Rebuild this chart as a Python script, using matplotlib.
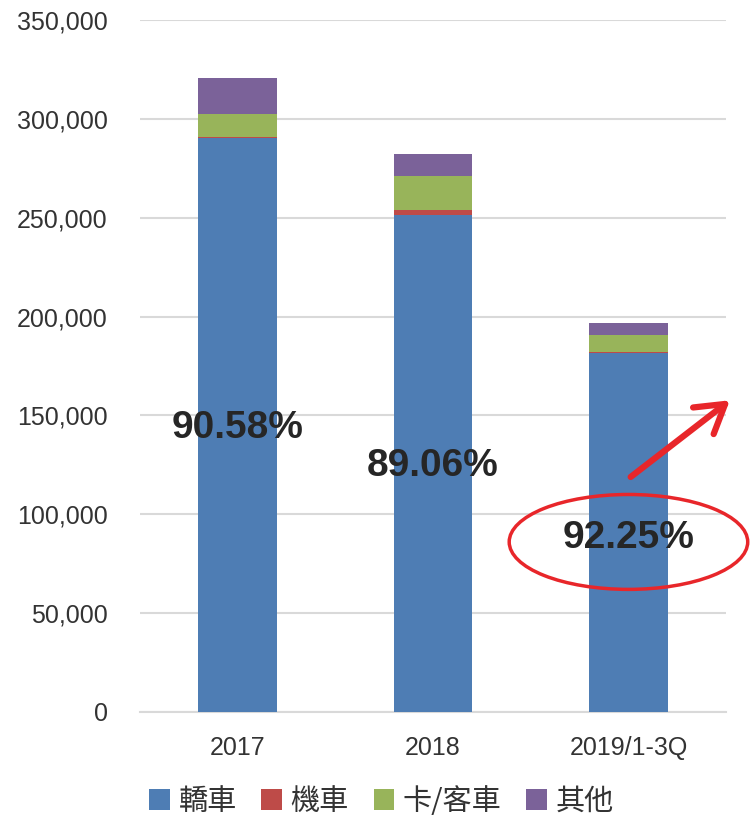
import numpy as np
import matplotlib.pyplot as plt
from matplotlib.patches import Ellipse

plt.rcParams['font.family'] = ['Liberation Sans', 'Noto Sans CJK TC', 'DejaVu Sans']

# 資料 (由圖讀取的估計值)
years = ['2017', '2018', '2019/1-3Q']
sedan = [290300, 251300, 181500]   # 轎車
moto = [700, 2400, 700]            # 機車
truck = [11300, 17600, 8400]       # 卡/客車
other = [18200, 10900, 6200]       # 其他
share = ['90.58%', '89.06%', '92.25%']
share_y = [143500, 124500, 88000]

series = [sedan, moto, truck, other]
names = ['轎車', '機車', '卡/客車', '其他']
colors = ['#4E7DB4', '#BE4B48', '#98B45A', '#7B6299']

fig = plt.figure(figsize=(7.51, 8.16), dpi=100)
ax = fig.add_axes([0.186, 0.1275, 0.781, 0.848])

x = np.arange(len(years))
bottom = np.zeros(len(years))
for vals, name, c in zip(series, names, colors):
    ax.bar(x, vals, 0.4, bottom=bottom, color=c, label=name, zorder=3)
    bottom += np.array(vals)

for xi, txt, yy in zip(x, share, share_y):
    ax.text(xi, yy, txt, ha='center', va='center', fontsize=28,
            fontweight='bold', color='#262626', zorder=5)

ax.set_xlim(-0.5, 2.5)
ax.set_ylim(0, 350000)
ax.set_yticks(np.arange(0, 350001, 50000))
ax.yaxis.set_major_formatter(plt.FuncFormatter(lambda v, p: f'{int(v):,}'))
ax.set_xticks(x)
ax.set_xticklabels(years)
ax.tick_params(axis='y', length=0, pad=23, labelsize=18, labelcolor='#333333')
ax.tick_params(axis='x', length=0, pad=17, labelsize=18, labelcolor='#333333')
ax.grid(axis='y', color='#d9d9d9', linewidth=1.5, zorder=0)
for s in ['top', 'right', 'left']:
    ax.spines[s].set_visible(False)
ax.spines['bottom'].set_color('#d9d9d9')
ax.spines['bottom'].set_linewidth(1.5)

# 紅色圈和箭頭
ell = Ellipse((2.0, 86000), 1.22, 48000, fill=False, edgecolor='#E8262A',
              linewidth=2.5, clip_on=False, zorder=6)
ax.add_patch(ell)
ax.annotate('', xy=(2.53, 158500), xytext=(2.0, 118000),
            arrowprops=dict(arrowstyle='->,head_length=0.9,head_width=0.55',
                            color='#E8262A', lw=4.5, mutation_scale=22),
            annotation_clip=False, zorder=6)

leg = fig.legend(loc='lower center', ncol=4, bbox_to_anchor=(0.508, -0.033),
                 frameon=False, fontsize=21, handlelength=0.7, handleheight=0.7,
                 handletextpad=0.3, columnspacing=0.85)
for t in leg.get_texts():
    t.set_family(['Noto Sans CJK TC', 'DejaVu Sans'])
    t.set_color('#333333')

fig.savefig('out.png', dpi=100)
